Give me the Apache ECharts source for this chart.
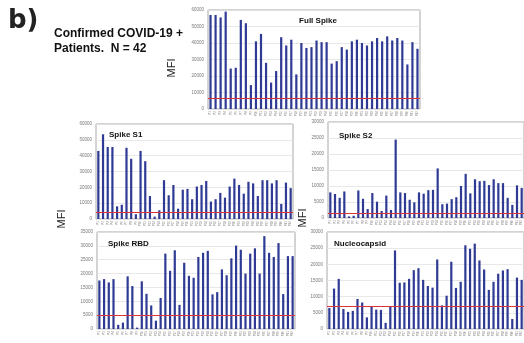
<!DOCTYPE html>
<html>
<head>
<meta charset="utf-8">
<script src="https://cdn.jsdelivr.net/npm/echarts@6/dist/echarts.min.js"></script>
<style>
  html, body { margin: 0; padding: 0; background: #fff; }
  #chart { width: 524px; height: 343px; }
</style>
</head>
<body>
<div id="chart"></div>
<script>
// 42 patients
const patients = [];
for (let i = 1; i <= 42; i++) patients.push('P' + i);

const fullSpike = [57000, 57000, 55500, 59000, 24500, 25000, 54000, 52000, 14500, 41000,
  45500, 28000, 16000, 23000, 43500, 38500, 42000, 21000, 40000, 37000,
  37500, 41500, 40500, 40500, 27500, 29000, 37500, 36000, 41000, 42000,
  40000, 38500, 41000, 43000, 41000, 44000, 41500, 43000, 41500, 27000,
  40500, 36500];
const spikeS1 = [43000, 53500, 45500, 45500, 8000, 9000, 45000, 38000, 3000, 43000,
  36500, 14500, 1500, 5500, 24500, 15000, 21500, 6500, 18500, 19000,
  12500, 20500, 21500, 24000, 11000, 12500, 16500, 13500, 20500, 25500,
  21500, 16000, 23500, 22500, 14500, 24500, 24500, 22500, 24500, 9500,
  23000, 19500];
const spikeS2 = [8000, 7500, 6300, 8300, 500, 700, 8600, 6000, 2800, 7800,
  5100, 2200, 7000, 2500, 24500, 8000, 7800, 5700, 4900, 8000,
  7600, 8700, 8800, 15500, 4300, 4500, 5900, 6500, 10000, 13800,
  7700, 12100, 11500, 11600, 10300, 12100, 10900, 10900, 6300, 4100,
  10200, 9400];
const spikeRBD = [17500, 18000, 16800, 18000, 1500, 2300, 19000, 15500, 500, 17200,
  12700, 8500, 3000, 11200, 27200, 21000, 28400, 8700, 23900, 19200,
  18500, 26000, 27500, 28200, 12500, 13300, 21500, 19400, 25500, 30100,
  28600, 20000, 27200, 29100, 20000, 33500, 27500, 26000, 31000, 12600,
  26300, 26300];
const nucleocapsid = [6500, 12500, 15500, 6200, 5300, 5600, 9300, 8200, 3600, 7000,
  6000, 5900, 1900, 7000, 24300, 14300, 14400, 15500, 18200, 18800,
  15200, 13300, 12800, 21500, 7300, 10300, 20800, 12700, 14600, 25900,
  24800, 26400, 21200, 18400, 12100, 14600, 17100, 18100, 18500, 3100,
  15900, 15200];

const panelNames = ['Full Spike', 'Spike S1', 'Spike S2', 'Spike RBD', 'Nucleocapsid'];
const panelData = [fullSpike, spikeS1, spikeS2, spikeRBD, nucleocapsid];
const cutoffs = [6500, 4200, 1600, 5000, 7100];
const axisMax = [60000, 60000, 30000, 35000, 30000];
const axisStep = [10000, 10000, 5000, 5000, 5000];

const grids = [
  { left: 208, top: 10, width: 212, height: 99 },
  { left: 96, top: 124, width: 197, height: 95 },
  { left: 328, top: 122, width: 202, height: 96 },
  { left: 97, top: 232, width: 198, height: 97 },
  { left: 327, top: 232, width: 203, height: 97 }
];
const titlePos = [
  { left: 313, top: 12, textAlign: 'center' },
  { left: 104, top: 126 },
  { left: 334, top: 127 },
  { left: 103, top: 235 },
  { left: 329, top: 235 }
];

const chart = echarts.init(document.getElementById('chart'));

const mfiLabel = (x, y) => ({
  type: 'text', x: x, y: y, rotation: Math.PI / 2,
  style: { text: 'MFI', fontSize: 11, fontFamily: 'Liberation Sans', fill: '#222', align: 'center', verticalAlign: 'middle' }
});

const option = {
  animation: false,
  backgroundColor: '#fff',
  title: panelNames.map((n, i) => ({
    text: n,
    left: titlePos[i].left,
    top: titlePos[i].top,
    textAlign: titlePos[i].textAlign || 'left',
    textStyle: { fontFamily: 'Liberation Sans', fontSize: 8, fontWeight: 'bold', color: '#111' }
  })),
  grid: grids.map(g => Object.assign({ show: true, borderColor: '#a8a8a8', borderWidth: 1, backgroundColor: '#fff' }, g)),
  xAxis: grids.map((g, i) => ({
    type: 'category',
    gridIndex: i,
    data: patients,
    axisTick: { show: false },
    axisLine: { show: false },
    axisLabel: { interval: 0, rotate: 90, fontSize: 3, color: '#888', margin: 2 }
  })),
  yAxis: grids.map((g, i) => ({
    type: 'value',
    gridIndex: i,
    min: 0,
    max: axisMax[i],
    interval: axisStep[i],
    axisLine: { show: false },
    axisTick: { show: false },
    axisLabel: { fontSize: 4.5, color: '#777', margin: 4, fontFamily: 'Liberation Sans', formatter: v => String(v) },
    splitLine: { lineStyle: { color: '#e2e2e2', width: 0.8 } }
  })),
  series: panelData.map((d, i) => ({
    type: 'bar',
    xAxisIndex: i,
    yAxisIndex: i,
    data: d,
    barWidth: 2.2,
    itemStyle: { color: '#2e3a94' },
    markLine: {
      silent: true,
      symbol: 'none',
      label: { show: false },
      lineStyle: { color: '#d9343a', width: 1, type: 'solid' },
      data: [{ yAxis: cutoffs[i] }]
    }
  })),
  graphic: [
    { type: 'text', left: 8, top: 8, style: { text: 'b)', fontSize: 26, fontWeight: 'bold', fontFamily: 'DejaVu Sans', fill: '#222' } },
    { type: 'text', left: 54, top: 26, style: { text: 'Confirmed COVID-19 +\nPatients.  N = 42', fontSize: 12, lineHeight: 15, fontWeight: 'bold', fontFamily: 'Liberation Sans', fill: '#111' } },
    mfiLabel(172, 68),
    mfiLabel(62, 219),
    mfiLabel(303, 218)
  ]
};

chart.setOption(option);
</script>
</body>
</html>
